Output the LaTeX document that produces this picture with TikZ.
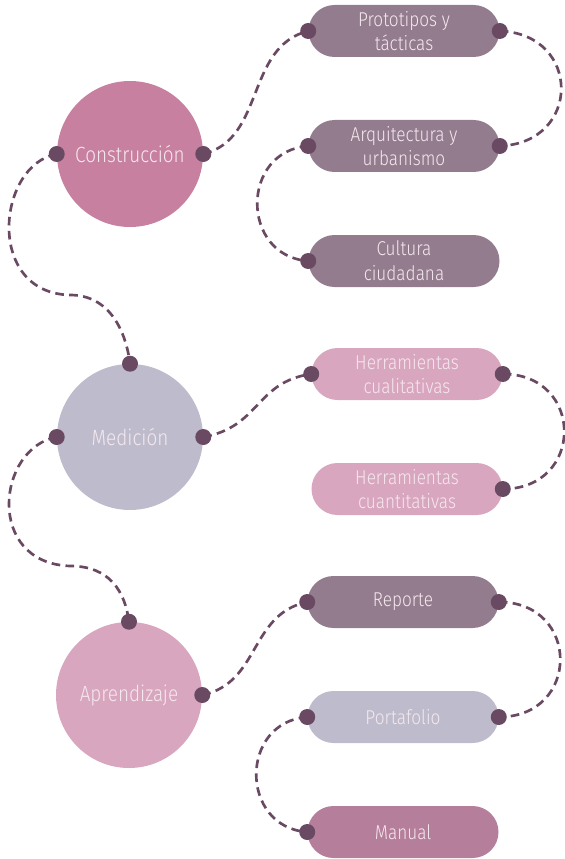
\documentclass[tikz,border=0pt]{standalone}
\usepackage{fontspec}
\setmainfont{Fira Sans}[UprightFont={* Light}, FakeStretch=0.86]
\usetikzlibrary{positioning, shapes.misc}

\definecolor{rosaFuerte}{HTML}{C880A0}
\definecolor{lila}{HTML}{BEBCCC}
\definecolor{rosaClaro}{HTML}{D9A6BF}
\definecolor{malva}{HTML}{937C8E}
\definecolor{malvaRosa}{HTML}{B57F9C}
\definecolor{ciruela}{HTML}{6A4A63}
\definecolor{texto}{HTML}{F5E8EF}

\tikzset{
    tema/.style = {circle, minimum size=109.5pt, inner sep=0pt,
        text=texto, font=\fontsize{16.5}{19}\selectfont},
    subtema/.style = {rounded rectangle, minimum width=143.25pt,
        minimum height=39pt, inner sep=0pt, align=center,
        text=texto, font=\fontsize{15}{18.5}\selectfont},
    punto/.style = {circle, fill=ciruela, minimum size=12pt, inner sep=0pt},
    ruta/.style = {draw=ciruela, line width=2pt,
        dash pattern=on 6.5pt off 4pt}
}

\begin{document}
\begin{tikzpicture} [x=0.75pt, y=-0.75pt,
                node distance = 86.25pt,
                on grid]
            \useasboundingbox (0,0) rectangle (564,859);

            % Construccion
            \node (cons) [tema, fill=rosaFuerte] at (130,154) {Construcción};
            \node (proto) [subtema, fill=malva] at (404,31) {Prototipos y\\tácticas};
            \node (arqui) [subtema, fill=malva,
                below = of proto] {Arquitectura y\\urbanismo};
            \node (cultu) [subtema, fill=malva,
                below = of arqui] {Cultura\\ciudadana};

            % Medicion
            \node (medi) [tema, fill=lila] at (130,437) {Medición};
            \node (cuali) [subtema, fill=rosaClaro] at (407,374) {Herramientas\\cualitativas};
            \node (cuanti) [subtema, fill=rosaClaro,
                below = of cuali] {Herramientas\\cuantitativas};

            % Aprendizaje
            \node (apre) [tema, fill=rosaClaro] at (129,695) {Aprendizaje};
            \node (repo) [subtema, fill=malva] at (403,602) {Reporte};
            \node (porta) [subtema, fill=lila,
                below = of repo] {Portafolio};
            \node (manu) [subtema, fill=malvaRosa,
                below = of porta] {Manual};

            % Puntos
            \node (consE) [punto] at (cons.east) {};
            \node (consW) [punto] at (cons.west) {};
            \node (protoW) [punto] at (proto.west) {};
            \node (protoE) [punto] at (proto.east) {};
            \node (arquiE) [punto] at (arqui.east) {};
            \node (arquiW) [punto] at (arqui.west) {};
            \node (cultuW) [punto] at (cultu.west) {};
            \node (mediN) [punto] at (medi.north) {};
            \node (mediE) [punto] at (medi.east) {};
            \node (mediW) [punto] at (medi.west) {};
            \node (cualiW) [punto] at (cuali.west) {};
            \node (cualiE) [punto] at (cuali.east) {};
            \node (cuantiE) [punto] at (cuanti.east) {};
            \node (apreN) [punto] at (apre.north) {};
            \node (apreE) [punto] at (apre.east) {};
            \node (repoW) [punto] at (repo.west) {};
            \node (repoE) [punto] at (repo.east) {};
            \node (portaE) [punto] at (porta.east) {};
            \node (portaW) [punto] at (porta.west) {};
            \node (manuW) [punto] at (manu.west) {};

            % Curvas
            \coordinate (vuelta1) at (70,295);
            \coordinate (vuelta2) at (70,566);

            % Rutas
            \path [ruta]
                (consE.center) .. controls +(62,-15) and +(-63,16) .. (protoW.center)
                (protoE.center) .. controls +(82,3) and +(82,-3) .. (arquiE.center)
                (arquiW.center) .. controls +(-68,5) and +(-68,-5) .. (cultuW.center)
                (consW.center) .. controls +(-60,11) and +(-85,-2) .. (vuelta1)
                    .. controls +(40,0) and +(-4,-32) .. (mediN.center)
                (mediE.center) .. controls +(57,-10) and +(-56,8) .. (cualiW.center)
                (cualiE.center) .. controls +(82,0) and +(82,0) .. (cuantiE.center)
                (mediW.center) .. controls +(-60,11) and +(-85,-3) .. (vuelta2)
                    .. controls +(40,0) and +(-4,-30) .. (apreN.center)
                (apreE.center) .. controls +(58,-12) and +(-58,12) .. (repoW.center)
                (repoE.center) .. controls +(82,0) and +(82,0) .. (portaE.center)
                (portaW.center) .. controls +(-68,5) and +(-68,-5) .. (manuW.center);
            \end{tikzpicture}
\end{document}
